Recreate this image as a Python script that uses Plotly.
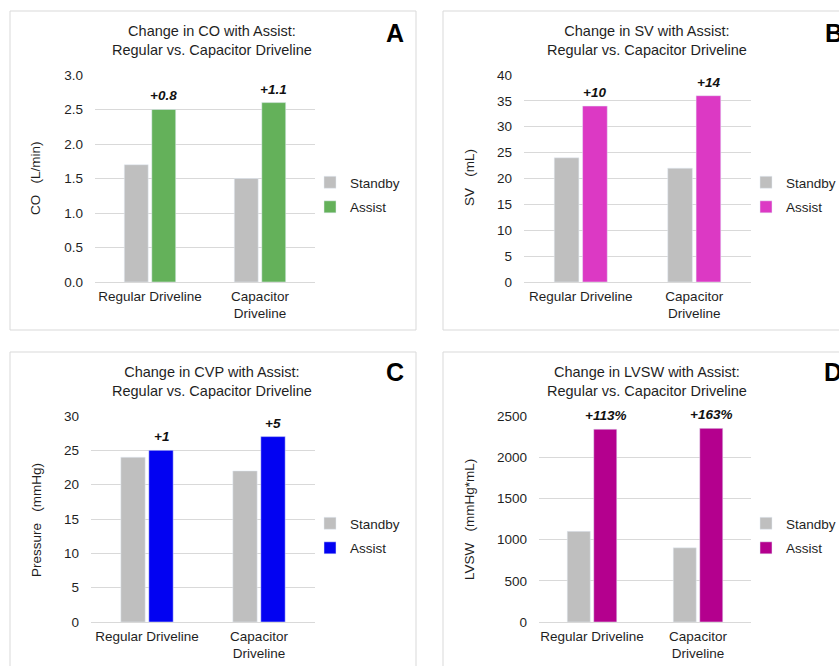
import plotly.graph_objects as go

W, H = 839, 666

categories = ["Regular Driveline", "Capacitor<br>Driveline"]
series_names = ["Standby", "Assist"]

co_standby = [1.7, 1.5]
co_assist = [2.5, 2.6]
co_labels = ["+0.8", "+1.1"]

sv_standby = [24, 22]
sv_assist = [34, 36]
sv_labels = ["+10", "+14"]

cvp_standby = [24, 22]
cvp_assist = [25, 27]
cvp_labels = ["+1", "+5"]

lvsw_standby = [1100, 900]
lvsw_assist = [2340, 2350]
lvsw_labels = ["+113%", "+163%"]

titles = [
    "Change in CO with Assist:<br>Regular vs. Capacitor Driveline",
    "Change in SV with Assist:<br>Regular vs. Capacitor Driveline",
    "Change in CVP with Assist:<br>Regular vs. Capacitor Driveline",
    "Change in LVSW with Assist:<br>Regular vs. Capacitor Driveline",
]
ytitles = ["CO\u00a0\u00a0\u00a0(L/min)", "SV\u00a0\u00a0\u00a0(mL)",
           "Pressure\u00a0\u00a0\u00a0(mmHg)", "LVSW\u00a0\u00a0\u00a0(mmHg*mL)"]
letters = ["A", "B", "C", "D"]
yranges = [[0, 3], [0, 40], [0, 30], [0, 2500]]
ydticks = [0.5, 5, 5, 500]
ytickformats = [".1f", "", "", ""]

FONT = "Liberation Sans, Arial, sans-serif"
TXT = "#1f1f1f"
GRAY = "#BFBFBF"
assist_colors = ["#64B15A", "#DC39C4", "#0202F2", "#B4008E"]

standby_vals = [co_standby, sv_standby, cvp_standby, lvsw_standby]
assist_vals = [co_assist, sv_assist, cvp_assist, lvsw_assist]
labels = [co_labels, sv_labels, cvp_labels, lvsw_labels]


def px(x):
    return x / W


def py(y):
    return 1 - y / H


# layout geometry (pixels)
plot_boxes = [  # x0, x1, ytop, ybottom
    (95, 315, 75, 282),
    (524, 751, 75, 282),
    (91, 315, 416, 622),
    (539, 751, 416, 622),
]
panel_boxes = [
    (10, 416, 11, 330),
    (443, 850, 11, 330),
    (10, 416, 352, 680),
    (443, 850, 352, 680),
]
title_pos = [(212, 40.5), (647, 40.5), (212, 381.5), (647, 381.5)]
ytitle_pos = [(35, 178), (469, 178), (36, 520), (469, 520)]
letter_pos = [(395, 33, "center"), (823, 33, "left"), (395, 372, "center"), (822, 372, "left")]
legend_pos = [(310, 195), (746, 195), (310, 536), (746, 536)]

BARGAP = 0.5
fig = go.Figure()
annotations = []
shapes = []
layout = {}

for i in range(4):
    sfx = "" if i == 0 else str(i + 1)
    xa, ya = "x" + sfx, "y" + sfx
    lg = "legend" + sfx
    fig.add_trace(go.Bar(x=categories, y=standby_vals[i], name=series_names[0],
                         marker_color=GRAY, xaxis=xa, yaxis=ya, legend=lg,
                         legendgroup="s" + sfx))
    fig.add_trace(go.Bar(x=categories, y=assist_vals[i], name=series_names[1],
                         marker_color=assist_colors[i], xaxis=xa, yaxis=ya, legend=lg,
                         legendgroup="a" + sfx))
    x0, x1, yt, yb = plot_boxes[i]
    layout["xaxis" + sfx] = dict(
        domain=[px(x0), px(x1)], anchor=ya, type="category",
        showgrid=False, showline=False, zeroline=False, ticks="",
        tickfont=dict(size=13.5, color=TXT, family=FONT), ticklabelstandoff=4,
        fixedrange=True,
    )
    layout["yaxis" + sfx] = dict(
        domain=[py(yb), py(yt)], anchor=xa, range=yranges[i], dtick=ydticks[i],
        tickformat=ytickformats[i], showline=False, gridcolor="#D9D9D9", gridwidth=1,
        zeroline=True, zerolinecolor="#D9D9D9", zerolinewidth=1, ticks="",
        tickfont=dict(size=13.5, color=TXT, family=FONT), ticklabelstandoff=11,
        fixedrange=True,
    )
    lx, lyc = legend_pos[i]
    layout[lg] = dict(x=px(lx), y=py(lyc), xanchor="left", yanchor="middle",
                      font=dict(size=13.5, color=TXT, family=FONT),
                      bgcolor="rgba(0,0,0,0)", itemwidth=30,
                      traceorder="grouped", tracegroupgap=4)
    # value labels above assist bars
    off = 0.25 * (1 - BARGAP)
    for j, lab in enumerate(labels[i]):
        annotations.append(dict(
            x=j + off, y=assist_vals[i][j], xref=xa, yref=ya, text=lab,
            showarrow=False, yanchor="bottom", yshift=4,
            font=dict(size=13.5, color="#111111", family=FONT, weight="bold", style="italic"),
        ))
    tx, ty = title_pos[i]
    annotations.append(dict(x=px(tx), y=py(ty), xref="paper", yref="paper",
                            text=titles[i], showarrow=False, xanchor="center", yanchor="middle",
                            font=dict(size=14.5, color=TXT, family=FONT)))
    yx, yy = ytitle_pos[i]
    annotations.append(dict(x=px(yx), y=py(yy), xref="paper", yref="paper",
                            text=ytitles[i], showarrow=False, textangle=-90,
                            xanchor="center", yanchor="middle",
                            font=dict(size=13.5, color=TXT, family=FONT)))
    lx_, ly_, anc = letter_pos[i]
    annotations.append(dict(x=px(lx_), y=py(ly_), xref="paper", yref="paper",
                            text="<b>" + letters[i] + "</b>", showarrow=False,
                            xanchor=anc, yanchor="middle",
                            font=dict(size=25, color="#000000", family=FONT)))
    bx0, bx1, by0, by1 = panel_boxes[i]
    shapes.append(dict(type="rect", xref="paper", yref="paper",
                       x0=px(bx0), x1=px(bx1), y0=py(by1), y1=py(by0),
                       line=dict(color="#D9D9D9", width=1), fillcolor="rgba(0,0,0,0)",
                       layer="below"))

fig.update_layout(
    width=W, height=H, margin=dict(l=0, r=0, t=0, b=0, autoexpand=False),
    paper_bgcolor="white", plot_bgcolor="white",
    barmode="group", bargap=BARGAP, bargroupgap=0.13,
    font=dict(family=FONT, color=TXT),
    annotations=annotations, shapes=shapes, showlegend=True,
    **layout,
)

fig.write_html("out.html", config={"displayModeBar": False})
